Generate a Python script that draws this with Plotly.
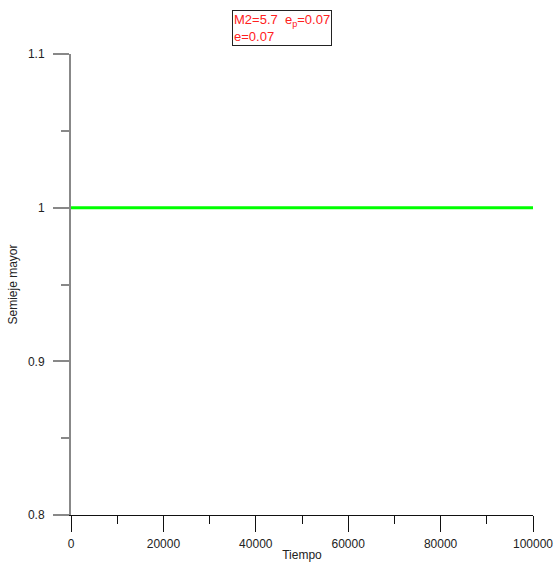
import plotly.graph_objects as go

tiempo = [0, 100000]
semieje = [1.0, 1.0]
x_ticks = [0, 20000, 40000, 60000, 80000, 100000]
y_ticks = [0.8, 0.9, 1.0, 1.1]
y_tick_labels = ["0.8", "0.9", "1", "1.1"]

fig = go.Figure()
fig.add_trace(go.Scatter(x=tiempo, y=semieje, mode="lines",
                         line=dict(color="#00ff00", width=3), showlegend=False))

font = dict(family="Liberation Sans, Arial, sans-serif", size=12, color="#222222")

fig.update_layout(
    template="none",
    width=555, height=564,
    margin=dict(l=71, r=22, t=54, b=49),
    paper_bgcolor="white", plot_bgcolor="white",
    font=font,
    xaxis=dict(range=[0, 100000], tickvals=x_ticks, ticktext=[str(v) for v in x_ticks],
               automargin=False,
               showgrid=False, zeroline=False, showline=True, linecolor="#111111", linewidth=1,
               ticks="outside", ticklen=16, tickcolor="#111111", tickwidth=1,
               ticklabelstandoff=2,
               minor=dict(dtick=10000, ticks="outside", ticklen=8, tickcolor="#111111", showgrid=False),
               title=dict(text="Tiempo", standoff=0, font=font)),
    yaxis=dict(range=[0.8, 1.1], tickvals=y_ticks, ticktext=y_tick_labels,
               automargin=False,
               showgrid=False, zeroline=False, showline=True, linecolor="#888888", linewidth=2,
               ticks="outside", ticklen=16, tickcolor="#888888", tickwidth=2,
               ticklabelstandoff=6,
               minor=dict(dtick=0.05, ticks="outside", ticklen=8, tickcolor="#888888", tickwidth=2, showgrid=False),
               title=dict(text="Semieje mayor", standoff=8, font=font)),
)

fig.add_annotation(
    xref="paper", yref="paper", x=(232 - 71) / 462, y=(515 - 10) / 461,
    xanchor="left", yanchor="top", align="left", showarrow=False,
    text="M2=5.7  e<sub>p</sub>=0.07<br>e=0.07",
    font=dict(family="Liberation Sans, Arial, sans-serif", size=13, color="#ff2020"),
    bordercolor="#222222", borderwidth=1, borderpad=1, bgcolor="white",
)

fig.write_html("out.html", config={"displayModeBar": False},
               post_script="document.body.style.margin='0';document.body.style.overflow='hidden';")
